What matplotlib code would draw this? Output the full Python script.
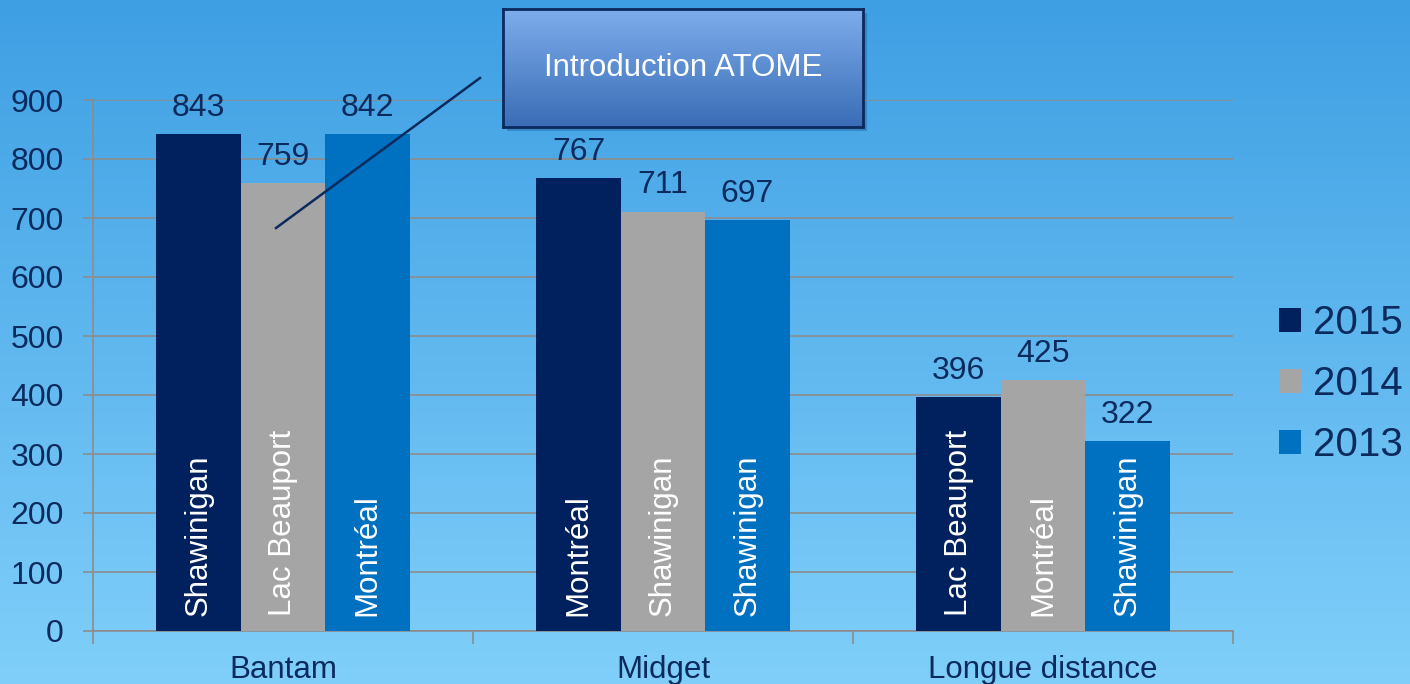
import numpy as np
import matplotlib.pyplot as plt
from matplotlib.patches import Rectangle
from matplotlib.lines import Line2D

plt.rcParams['font.family'] = ['Liberation Sans', 'DejaVu Sans']

# data
categories = ['Bantam', 'Midget', 'Longue distance']
years = ['2015', '2014', '2013']
values = {
    '2015': [843, 767, 396],
    '2014': [759, 711, 425],
    '2013': [842, 697, 322],
}
places = {
    '2015': ['Shawinigan', 'Montréal', 'Lac Beauport'],
    '2014': ['Lac Beauport', 'Shawinigan', 'Montréal'],
    '2013': ['Montréal', 'Shawinigan', 'Shawinigan'],
}
colors = {'2015': '#00215E', '2014': '#A5A5A5', '2013': '#0070C0'}
text_col = '#0B2A5E'

fig = plt.figure(figsize=(14.1, 6.84), dpi=100)

# blue gradient background
bg = fig.add_axes([0, 0, 1, 1], zorder=-10)
grad = np.linspace(0, 1, 256).reshape(-1, 1)
top = np.array([0x3E, 0x9F, 0xE3]) / 255
bot = np.array([0x80, 0xCF, 0xFA]) / 255
img = top + (bot - top) * grad[:, :, None]
bg.imshow(img, aspect='auto', extent=[0, 1, 0, 1])
bg.axis('off')

ax = fig.add_axes([93 / 1410, 53 / 684, 1140 / 1410, 531 / 684])
ax.patch.set_alpha(0)

x = np.arange(len(categories))
w = 0.222
for i, yr in enumerate(years):
    pos = x + (i - 1) * w
    ax.bar(pos, values[yr], width=w, color=colors[yr], label=yr, zorder=3)
    for p, v, name in zip(pos, values[yr], places[yr]):
        ax.annotate(str(v), (p, v), xytext=(0, 8), textcoords='offset points',
                    ha='center', va='bottom', fontsize=23, color=text_col)
        ax.text(p, 25, name, rotation=90, ha='center', va='bottom',
                fontsize=22.5, color='white', zorder=4)

ax.set_xlim(-0.5, 2.5)
ax.set_ylim(0, 900)
ax.set_yticks(range(0, 901, 100))
ax.yaxis.grid(True, color='#8C8C8C', linewidth=1.2, zorder=0)
# category boundaries as major ticks, names as minor labels
ax.set_xticks([-0.5, 0.5, 1.5, 2.5])
ax.set_xticklabels([])
ax.set_xticks(x, minor=True)
ax.set_xticklabels(categories, minor=True)
ax.tick_params(axis='x', which='minor', length=0, labelsize=22.5, labelcolor=text_col, pad=17)
ax.tick_params(axis='x', which='major', length=9, color='#8C8C8C', width=1.2)
ax.tick_params(axis='y', length=7, color='#8C8C8C', width=1.2, labelsize=23,
               labelcolor=text_col, pad=14)
for s in ['top', 'right']:
    ax.spines[s].set_visible(False)
for s in ['left', 'bottom']:
    ax.spines[s].set_color('#8C8C8C')
    ax.spines[s].set_linewidth(1.2)

leg = ax.legend(loc='center left', bbox_to_anchor=(1.0404, 0.465), frameon=False,
                fontsize=29, borderpad=0, borderaxespad=0, handlelength=0.55,
                handleheight=0.55, handletextpad=0.3, labelspacing=0.57,
                labelcolor=text_col)

# callout box
fig.add_artist(Line2D([480 / 1410, 276 / 1410], [1 - 78 / 684, 1 - 228 / 684],
                      color='#0B2A5E', linewidth=1.8))
bx, by, bw, bh = 503 / 1410, 1 - 127 / 684, 360 / 1410, 118 / 684
shadow = Rectangle((bx + 0.003, by - 0.006), bw, bh, transform=fig.transFigure,
                   facecolor='#1B4F8A', alpha=0.35, edgecolor='none', zorder=-1)
fig.add_artist(shadow)
box_ax = fig.add_axes([bx, by, bw, bh], zorder=5)
c1 = np.array([0x7E, 0xAD, 0xEC]) / 255
c2 = np.array([0x3A, 0x6D, 0xB6]) / 255
box_ax.imshow(c1 + (c2 - c1) * grad[:, :, None], aspect='auto', extent=[0, 1, 0, 1])
box_ax.set_xticks([])
box_ax.set_yticks([])
for s in box_ax.spines.values():
    s.set_color('#0B2A5E')
    s.set_linewidth(2)
box_ax.text(0.5, 0.5, 'Introduction ATOME', ha='center', va='center',
            fontsize=22.5, color='white', transform=box_ax.transAxes)

fig.savefig('out.png', dpi=100)
